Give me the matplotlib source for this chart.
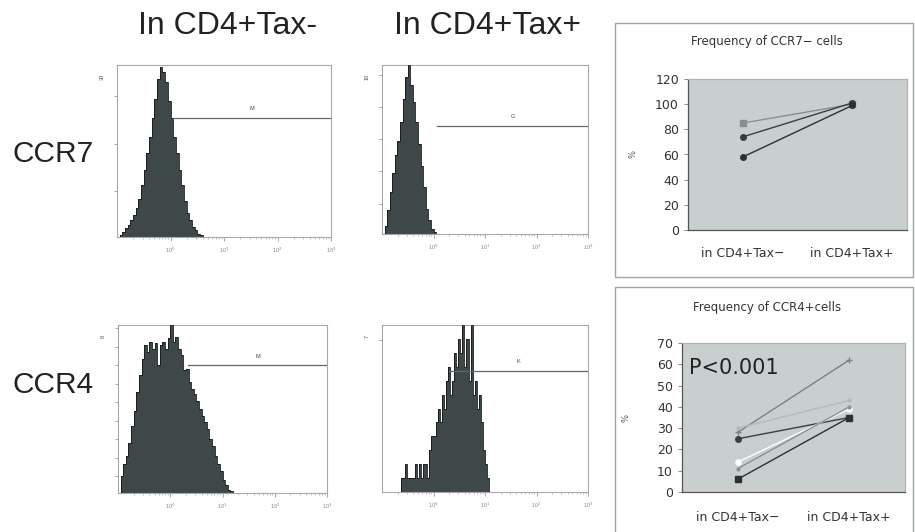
import matplotlib.pyplot as plt
import numpy as np
from matplotlib.patches import Rectangle

plt.rcParams['font.family'] = ['Liberation Sans', 'DejaVu Sans']

W, H = 915, 532

# flow cytometry histograms: counts per bin, bins in log10 units
ccr7_neg_start, ccr7_neg_step = -1.0, 0.05
ccr7_neg_counts = [0, 1, 3, 5, 7, 10, 13, 17, 22, 30, 39, 49, 58, 69, 80, 92, 99,
                   96, 90, 79, 69, 58, 49, 39, 30, 21, 14, 10, 6, 4, 2, 1, 0]

ccr7_pos_start, ccr7_pos_step = -1.0, 0.05
ccr7_pos_counts = [0, 5, 14, 25, 36, 47, 55, 66, 80, 93, 100, 88, 78, 66, 53, 40,
                   28, 15, 8, 3, 1, 0]

ccr4_neg_start, ccr4_neg_step = -1.0, 0.05
ccr4_neg_counts = [0, 10, 17, 22, 30, 40, 49, 60, 70, 80, 88, 84, 90, 86, 89, 76,
                   88, 90, 86, 92, 100, 90, 93, 86, 82, 73, 74, 66, 62, 59, 55, 50,
                   46, 42, 38, 32, 28, 22, 17, 13, 8, 5, 2, 1, 0]

ccr4_pos_start, ccr4_pos_step = -0.64, 0.04
ccr4_pos_counts = [1, 1, 2, 1, 1, 1, 1, 2, 1, 2, 1, 2, 2, 1, 3, 4, 4, 5, 6, 5, 7,
                   6, 8, 9, 7, 8, 10, 9, 11, 10, 12, 9, 11, 8, 12, 7, 8, 6, 7, 5,
                   3, 2, 1, 0]

# gate markers (log10 start, height) and labels
gates = {'ccr7_neg': (0.05, 69, 'M'), 'ccr7_pos': (0.07, 64, 'G'),
         'ccr4_neg': (0.34, 76, 'M'), 'ccr4_pos': (0.31, 8.7, 'K')}

# paired frequencies
groups = ['in CD4+Tax−', 'in CD4+Tax+']
ccr7_pairs = [[85, 100], [74, 101], [58, 99]]
ccr7_colors = ['#8a8e8e', '#3a3e3e', '#2c3030']
ccr7_markers = ['s', 'o', 'o']
ccr4_pairs = [[28, 62], [30, 43], [25, 35], [14, 39], [11, 40], [6, 35]]
ccr4_colors = ['#7c8080', '#b4b8b8', '#3a3e3e', '#ffffff', '#8c9090', '#2c3030']
ccr4_markers = ['+', '.', 'o', 'o', '.', 's']

SMALL = ['DejaVu Sans']


def rect(l, t, r, b):
    return [l / W, 1 - b / H, (r - l) / W, (b - t) / H]


fig = plt.figure(figsize=(W / 100, H / 100), dpi=100)

# frames around the two line plots
for (l, t, r, b) in [(615, 23, 913, 277), (615, 287, 913, 540)]:
    fig.add_artist(Rectangle((l / W, 1 - b / H), (r - l) / W, (b - t) / H,
                             transform=fig.transFigure, facecolor='white',
                             edgecolor='#a0a4a4', linewidth=1.0, zorder=0))


def histo(box, start, step, counts, ytop, gate, yticks, ylab):
    ax = fig.add_axes(rect(*box))
    edges = 10 ** (start + step * np.arange(len(counts) + 1))
    ax.stairs(counts, edges, fill=True, color='#3e4848', zorder=2)
    ax.stairs(counts, edges, fill=False, color='#151818', linewidth=0.6, zorder=3)
    ax.set_xscale('log')
    ax.set_xlim(0.1, 1000)
    ax.set_ylim(0, ytop)
    gx, gy, gl = gate
    ax.plot([10 ** gx, 1000], [gy, gy], color='#666', linewidth=0.9, zorder=4)
    mid = 10 ** ((gx + 3) / 2)
    ax.text(mid, gy + ytop * 0.04, gl, fontsize=4, color='#444', ha='center',
            va='bottom')
    ax.set_xticks([1, 10, 100, 1000])
    ax.set_xticklabels(['10$^0$', '10$^1$', '10$^2$', '10$^3$'])
    ax.tick_params(axis='x', which='major', labelsize=4, colors='#999',
                   length=3, width=0.6, labelcolor='#888')
    ax.tick_params(axis='x', which='minor', length=1.5, width=0.5, colors='#aaa')
    ax.set_yticks(yticks)
    ax.set_yticklabels([])
    ax.tick_params(axis='y', length=2.5, width=0.6, colors='#999')
    ax.text(-0.07, 0.93, ylab, transform=ax.transAxes, fontsize=4, rotation=90,
            color='#555', ha='center', va='center')
    for s in ax.spines.values():
        s.set_color('#a8a8a8')
        s.set_linewidth(0.8)
    return ax


histo((117, 65, 331, 237), ccr7_neg_start, ccr7_neg_step, ccr7_neg_counts, 100,
      gates['ccr7_neg'], [27, 54, 82], '30')
histo((382, 65, 588, 234), ccr7_pos_start, ccr7_pos_step, ccr7_pos_counts, 100,
      gates['ccr7_pos'], [18, 37, 56, 75, 94], '10')
histo((118, 325, 327, 493), ccr4_neg_start, ccr4_neg_step, ccr4_neg_counts, 100,
      gates['ccr4_neg'], [10, 21, 32, 43, 54, 65, 76, 87, 98], '8')
histo((382, 325, 588, 492), ccr4_pos_start, ccr4_pos_step, ccr4_pos_counts, 12,
      gates['ccr4_pos'], [10.9], '7')

fig.text(227 / W, 1 - 26 / H, 'In CD4+Tax-', fontsize=23, color='#222',
         ha='center', va='center')
fig.text(487 / W, 1 - 26 / H, 'In CD4+Tax+', fontsize=23, color='#222',
         ha='center', va='center')
fig.text(12 / W, 1 - 154 / H, 'CCR7', fontsize=21.5, color='#222',
         ha='left', va='center')
fig.text(12 / W, 1 - 385 / H, 'CCR4', fontsize=21.5, color='#222',
         ha='left', va='center')


def pairs(box, data, colors, markers, ymax, ystep, title, title_y, pad):
    ax = fig.add_axes(rect(*box))
    ax.set_facecolor('#c9cfcf')
    x = [1, 2]
    for vals, c, m in zip(data, colors, markers):
        mec = '#f4f4f4' if c == '#ffffff' else c
        ax.plot(x, vals, color=c, linewidth=1.0, marker=m, markersize=4,
                markerfacecolor=c, markeredgecolor=mec, zorder=3)
    ax.set_xlim(0.5, 2.5)
    ax.set_ylim(0, ymax)
    ax.set_yticks(np.arange(0, ymax + 1, ystep))
    ax.set_xticks(x)
    ax.set_xticklabels(groups, family=SMALL)
    ax.set_yticklabels([str(v) for v in ax.get_yticks().astype(int)], family=SMALL)
    ax.tick_params(axis='x', length=0, pad=pad, labelsize=9, labelcolor='#333')
    ax.tick_params(axis='y', length=3, width=0.6, colors='#777',
                   labelsize=9, labelcolor='#333')
    for k, s in ax.spines.items():
        s.set_linewidth(0.9)
        s.set_color('#555' if k in ('left', 'bottom') else '#b0b4b4')
    fig.text(767 / W, 1 - title_y / H, title, fontsize=8.5, color='#333',
             family=SMALL, ha='center', va='center')
    ax.text(-0.25, 0.5, '%', transform=ax.transAxes, fontsize=6, color='#555',
            family=SMALL, rotation=90, ha='center', va='center')
    return ax


pairs((688, 79, 907, 230), ccr7_pairs, ccr7_colors, ccr7_markers, 120, 20,
      'Frequency of CCR7− cells', 42, 12)
ax = pairs((682, 343, 905, 492), ccr4_pairs, ccr4_colors, ccr4_markers, 70, 10,
           'Frequency of CCR4+cells', 307, 14)
ax.text(0.03, 0.83, 'P<0.001', transform=ax.transAxes, fontsize=15,
        family=SMALL, color='#222', ha='left', va='center')

fig.savefig('out.png', dpi=100)
